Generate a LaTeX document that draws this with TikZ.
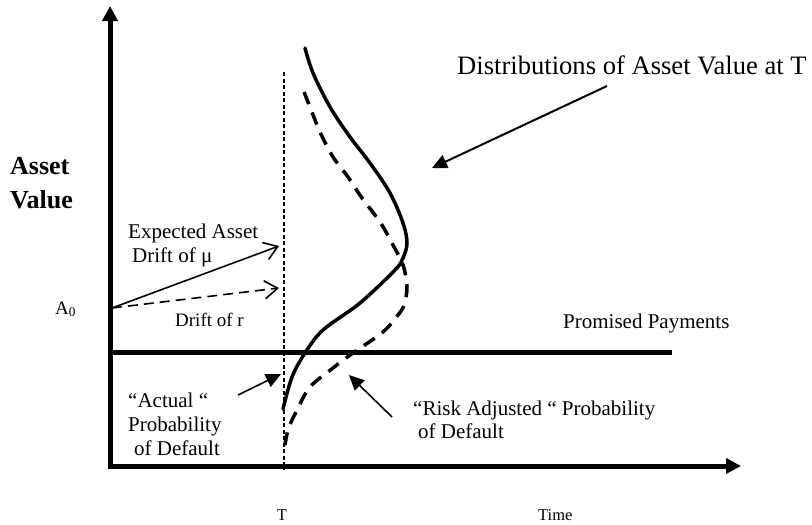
\documentclass[tikz,border=0pt]{standalone}
\usepackage{fontspec}
\setmainfont{Liberation Serif}
\usetikzlibrary{arrows.meta}
\tikzset{
  lbl/.style={anchor=base west, inner sep=0pt, font=\fontsize{21}{25}\selectfont},
  axis/.style={line width=5pt, -{Triangle[length=15pt,width=15pt]}},
  pointer/.style={line width=1.6pt, -{Triangle[length=15pt,width=14pt]}},
  drift/.style={line width=1.6pt, -{Straight Barb[length=13pt,width=18pt,line width=1.6pt]}},
  dist/.style={line width=3.5pt, line cap=round},
}
\begin{document}
\begin{tikzpicture}[x=1pt,y=-1pt]
\useasboundingbox (0,0) rectangle (812,525);
% axes
\coordinate (o) at (110,468);
\coordinate (ytop) at (110,6);
\coordinate (xend) at (741,466);
\coordinate (xstart) at (108,466);
\draw[axis] (o) -- (ytop);
\draw[axis] (xstart) -- (xend);
% promised payments
\coordinate (pp1) at (108,352.5);
\coordinate (pp2) at (672,352.5);
\draw[line width=5pt] (pp1) -- (pp2);
% dotted T line
\coordinate (t1) at (284,72);
\coordinate (t2) at (284,470);
\draw[line width=2pt, dash pattern=on 4pt off 2.5pt] (t1) -- (t2);
% drifts
\coordinate (a0) at (112,308);
\coordinate (mu) at (279,246);
\coordinate (rr) at (279,288);
\draw[drift] (a0) -- (mu);
\draw[drift, dash pattern=on 10pt off 6pt] (a0) -- (rr);
% distributions
\draw[dist] plot[smooth, tension=0.55] coordinates {(305,48) (313,73) (330,107) (350,137) (370,163) (390,193) (403,223) (407,243) (403,258) (395,270) (360,303) (323,330) (305,353) (292,377) (283,409)};
\draw[dist, line cap=butt, dash pattern=on 13pt off 9pt] plot[smooth, tension=0.55] coordinates {(304,92) (310,107) (320,132) (333,157) (348,177) (362,198) (380,222) (393,245) (403,265) (407,287) (404,305) (398,315) (383,332) (353,353) (333,368) (310,387) (297,410) (288,430) (284,452)};
% labels
\node[lbl, font=\fontsize{26.6}{30}\selectfont] (dtitle) at (457,74) {Distributions of Asset Value at T};
\node[lbl, font=\bfseries\fontsize{26}{30}\selectfont] (av1) at (10,174) {Asset};
\node[lbl, font=\bfseries\fontsize{26}{30}\selectfont] (av2) at (10,208) {Value};
\node[lbl] (ex1) at (128,238) {Expected Asset};
\node[lbl] (ex2) at (132,262) {Drift of μ};
\node[lbl, font=\fontsize{19}{23}\selectfont] (dr) at (175,326) {Drift of r};
\node[lbl, font=\fontsize{19}{23}\selectfont] (A0) at (55,314) {A\textsubscript{0}};
\node[lbl] (pp) at (563,328) {Promised Payments};
\node[lbl] (ac1) at (128,407) {“Actual “};
\node[lbl] (ac2) at (128,431) {Probability};
\node[lbl] (ac3) at (134,455) {of Default};
\node[lbl] (ra1) at (413,415) {“Risk Adjusted “ Probability};
\node[lbl] (ra2) at (418,438) {of Default};
\node[lbl, anchor=base, font=\fontsize{16.5}{20}\selectfont] (T) at (282,520) {T};
\node[lbl, font=\fontsize{16.5}{20}\selectfont] (time) at (538,520) {Time};
% pointers
\coordinate (dstart) at (607,86);
\coordinate (dtip) at (432,168);
\draw[pointer, line width=2pt] (dstart) -- (dtip);
\coordinate (acs) at (238,395);
\coordinate (act) at (281,374);
\draw[pointer] (acs) -- (act);
\coordinate (ras) at (392,417);
\coordinate (rat) at (349,375);
\draw[pointer] (ras) -- (rat);
\end{tikzpicture}
\end{document}
